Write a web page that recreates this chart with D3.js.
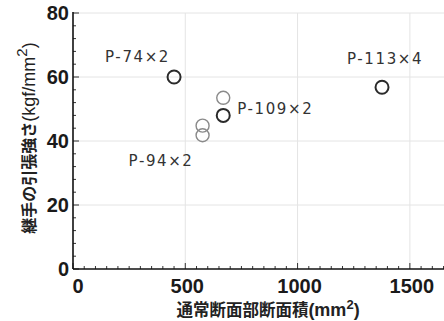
<!DOCTYPE html>
<html>
<head>
<meta charset="utf-8">
<script src="https://cdn.jsdelivr.net/npm/d3@7"></script>
<style>
  body { margin: 0; background: #fff; }
  svg { display: block; }
</style>
</head>
<body>
<svg id="chart"></svg>
<script>
const width = 444;
const height = 321;
const margin = {left: 73, top: 13, right: 0, bottom: 52};

const xTicks = [0, 500, 1000, 1500];
const yTicks = [0, 20, 40, 60, 80];
const areas = [450, 1376, 669, 669, 577, 577];
const strengths = [60, 56.8, 48.0, 53.5, 44.8, 41.8];
const shade = ['dark', 'dark', 'dark', 'light', 'light', 'light'];
const labelNames = ['P-74\u00d72', 'P-113\u00d74', 'P-109\u00d72', 'P-94\u00d72'];
const labelX = [450, 1376, 669, 577];
const labelY = [60, 56.8, 48.0, 41.8];

const x = d3.scaleLinear().domain([0, 1652]).range([margin.left, width]);
const y = d3.scaleLinear().domain([0, 80]).range([height - margin.bottom, margin.top]);

const svg = d3.select('#chart')
    .attr('width', width)
    .attr('height', height);

// grid
svg.append('g').selectAll('line.gy')
    .data(yTicks.slice(1))
    .enter().append('line')
        .attr('x1', x(0)).attr('x2', width)
        .attr('y1', d => y(d)).attr('y2', d => y(d))
        .style('stroke', '#e4e4e4').style('stroke-width', 1);
svg.append('g').selectAll('line.gx')
    .data(xTicks.slice(1))
    .enter().append('line')
        .attr('x1', d => x(d)).attr('x2', d => x(d))
        .attr('y1', y(0)).attr('y2', y(80))
        .style('stroke', '#e4e4e4').style('stroke-width', 1);

// minor ticks (inward)
const xMinor = d3.range(0, 1651, 50);
const yMinor = d3.range(0, 81, 4);
svg.append('g').selectAll('line')
    .data(xMinor)
    .enter().append('line')
        .attr('x1', d => x(d)).attr('x2', d => x(d))
        .attr('y1', y(0)).attr('y2', d => y(0) - (d % 500 === 0 ? 6 : 3))
        .style('stroke', '#333').style('stroke-width', 1);
svg.append('g').selectAll('line')
    .data(yMinor)
    .enter().append('line')
        .attr('y1', d => y(d)).attr('y2', d => y(d))
        .attr('x1', x(0)).attr('x2', d => x(0) + (d % 20 === 0 ? 6 : 3))
        .style('stroke', '#333').style('stroke-width', 1);

// axes lines
svg.append('line')
    .attr('x1', x(0)).attr('x2', width)
    .attr('y1', y(0)).attr('y2', y(0))
    .style('stroke', '#111').style('stroke-width', 1.6);
svg.append('line')
    .attr('x1', x(0)).attr('x2', x(0))
    .attr('y1', y(0)).attr('y2', y(80) - 1)
    .style('stroke', '#111').style('stroke-width', 1.6);

// tick labels
const tickFont = 'Liberation Sans, Arial, sans-serif';
svg.append('g').selectAll('text')
    .data(yTicks)
    .enter().append('text')
        .attr('x', x(0) - 4)
        .attr('y', d => y(d) + 7)
        .attr('text-anchor', 'end')
        .style('font-family', tickFont)
        .style('font-weight', 'bold')
        .style('font-size', '20px')
        .style('fill', '#1a1a1a')
        .text(d => d);
svg.append('g').selectAll('text')
    .data(xTicks)
    .enter().append('text')
        .attr('x', d => x(d) + (d === 0 ? 5 : 2))
        .attr('y', y(0) + 24)
        .attr('text-anchor', 'middle')
        .style('font-family', tickFont)
        .style('font-weight', 'bold')
        .style('font-size', '20px')
        .style('fill', '#1a1a1a')
        .text(d => d);

// axis titles
const jpFont = '"Noto Sans CJK JP", sans-serif';
const xt = svg.append('text')
    .attr('x', 268)
    .attr('y', 316)
    .attr('text-anchor', 'middle')
    .style('font-family', jpFont)
    .style('font-weight', 'bold')
    .style('font-size', '16.5px')
    .style('fill', '#222');
xt.append('tspan').text('通常断面部断面積');
xt.append('tspan').style('font-family', tickFont).style('font-size', '18px').text('(mm');
xt.append('tspan').attr('dy', -7).style('font-family', tickFont)
    .style('font-size', '13px').text('2');
xt.append('tspan').attr('dy', 7).style('font-family', tickFont).style('font-size', '18px').text(')');

const yt = svg.append('text')
    .attr('transform', 'translate(35,138) rotate(-90)')
    .attr('text-anchor', 'middle')
    .style('font-family', jpFont)
    .style('font-weight', 'bold')
    .style('font-size', '16px')
    .style('fill', '#222');
yt.append('tspan').text('継手の引張強さ');
yt.append('tspan').style('font-family', tickFont).style('font-weight', 'normal')
    .style('font-size', '18px').text('(kgf/mm');
yt.append('tspan').attr('dy', -8).style('font-family', tickFont)
    .style('font-weight', 'normal').style('font-size', '15px').text('2');
yt.append('tspan').attr('dy', 8).style('font-family', tickFont)
    .style('font-weight', 'normal').style('font-size', '18px').text(')');

// points
svg.append('g').selectAll('circle')
    .data(areas)
    .enter().append('circle')
        .attr('cx', (d, i) => x(d))
        .attr('cy', (d, i) => y(strengths[i]))
        .attr('r', 6.5)
        .style('fill', 'none')
        .style('stroke', (d, i) => shade[i] === 'dark' ? '#2a2a2a' : '#8a8a8a')
        .style('stroke-width', (d, i) => shade[i] === 'dark' ? 2 : 1.4);

// labels
const labelDx = [-69, -35, 14, -74];
const labelDy = [-20, -28, -6, 26];
svg.append('g').selectAll('text')
    .data(labelNames)
    .enter().append('text')
        .attr('x', (d, i) => x(labelX[i]) + labelDx[i])
        .attr('y', (d, i) => y(labelY[i]) + labelDy[i] + 5)
        .attr('text-anchor', 'start')
        .style('font-family', 'DejaVu Sans, sans-serif')
        .style('font-size', '15px')
        .style('letter-spacing', '1.6px')
        .style('fill', '#333')
        .text(d => d);
</script>
</body>
</html>
